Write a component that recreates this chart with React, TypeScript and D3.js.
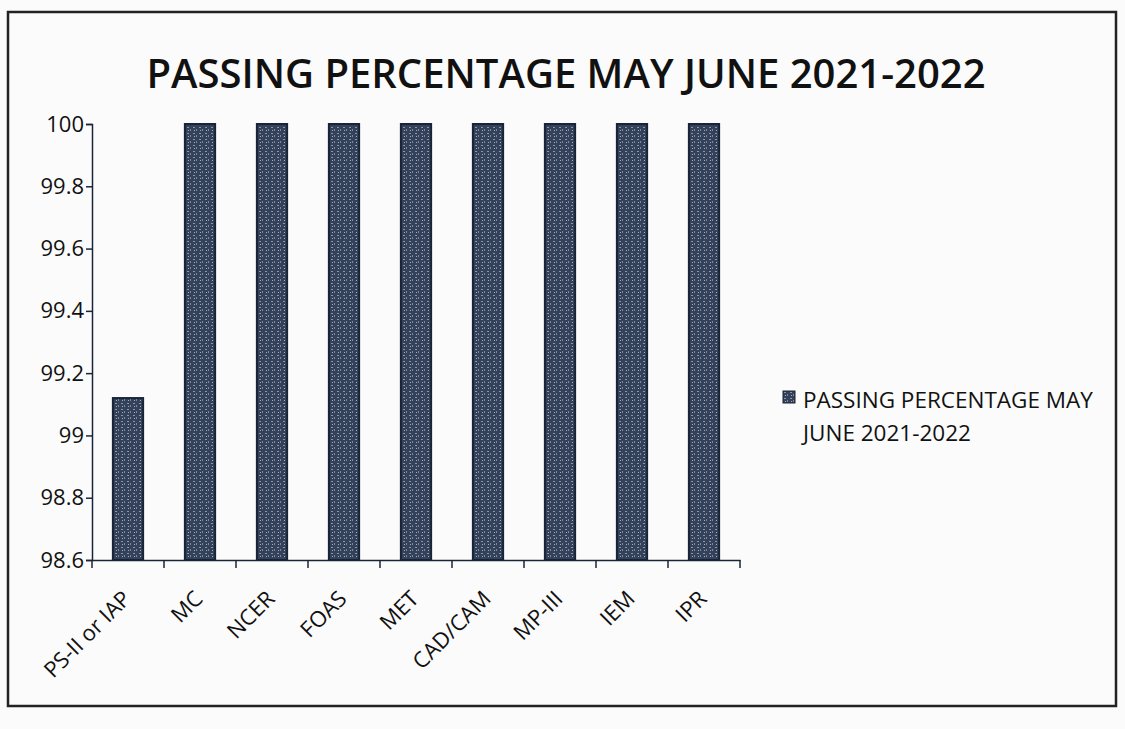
import React, { useEffect, useRef } from "react";
import * as d3 from "d3";

const categories = ["PS-II or IAP", "MC", "NCER", "FOAS", "MET", "CAD/CAM", "MP-III", "IEM", "IPR"];
const passing = [99.12, 100, 100, 100, 100, 100, 100, 100, 100];
const yTicks = [98.6, 98.8, 99, 99.2, 99.4, 99.6, 99.8, 100];
const seriesName = "PASSING PERCENTAGE MAY JUNE 2021-2022";

const App = () => {
  const ref = useRef<SVGSVGElement>(null);

  useEffect(() => {
    const width = 1125;
    const height = 729;
    const font = "'Open Sans', sans-serif";
    const ink = "#1b2437";

    const svg = d3.select(ref.current);
    svg.selectAll("*").remove();

    svg.append("rect").attr("width", width).attr("height", height).attr("fill", "#fbfbfb");

    // page frame
    svg.append("rect")
      .attr("x", 8).attr("y", 12).attr("width", 1108).attr("height", 694)
      .attr("fill", "none").attr("stroke", "#222").attr("stroke-width", 2.5);

    // title
    svg.append("text")
      .attr("x", 566).attr("y", 88)
      .attr("text-anchor", "middle")
      .attr("font-family", font).attr("font-size", 40).attr("font-weight", 600)
      .attr("fill", "#111")
      .text(seriesName);

    const margin = { left: 92, top: 124, right: 740, bottom: 560 };

    const x = d3.scaleBand().domain(categories).range([margin.left, margin.right]).paddingInner(0.58).paddingOuter(0.29);
    const y = d3.scaleLinear().domain([98.6, 100]).range([margin.bottom, margin.top]);

    // texture for bars
    const defs = svg.append("defs");
    const pat = defs.append("pattern")
      .attr("id", "speck").attr("width", 6).attr("height", 6).attr("patternUnits", "userSpaceOnUse");
    pat.append("rect").attr("width", 6).attr("height", 6).attr("fill", "#34415a");
    pat.append("rect").attr("x", 1).attr("y", 1).attr("width", 2).attr("height", 1).attr("fill", "#8c96a4");
    pat.append("rect").attr("x", 4).attr("y", 3).attr("width", 1).attr("height", 2).attr("fill", "#7d8898");
    pat.append("rect").attr("x", 2).attr("y", 4).attr("width", 1).attr("height", 1).attr("fill", "#a3acb8");

    svg.append("g")
      .selectAll("rect")
      .data(passing)
      .join("rect")
      .attr("x", (d, i) => x(categories[i])!)
      .attr("y", (d) => y(d))
      .attr("width", x.bandwidth())
      .attr("height", (d) => y(98.6) - y(d))
      .attr("fill", "url(#speck)")
      .attr("stroke", "#1a2438")
      .attr("stroke-width", 2);

    // y axis
    const yAxis = svg.append("g")
      .attr("transform", `translate(${margin.left},0)`)
      .call(d3.axisLeft(y).tickValues(yTicks).tickSize(6).tickFormat((d) => `${d}`));
    yAxis.select(".domain").attr("stroke", ink).attr("stroke-width", 1.5);
    yAxis.selectAll(".tick line").attr("stroke", ink).attr("stroke-width", 1.5);
    yAxis.selectAll(".tick text")
      .attr("x", -8)
      .attr("font-family", font).attr("font-size", 22).attr("fill", "#111");

    // x axis
    const xAxis = svg.append("g")
      .attr("transform", `translate(0,${margin.bottom})`)
      .call(d3.axisBottom(x).tickSize(0).tickSizeOuter(0));
    xAxis.select(".domain").attr("stroke", ink).attr("stroke-width", 1.5);
    xAxis.selectAll(".tick text")
      .attr("font-family", font).attr("font-size", 22).attr("fill", "#111")
      .attr("text-anchor", "end")
      .attr("dy", 0)
      .attr("transform", "translate(2,38) rotate(-45)");

    // x ticks at band boundaries
    const bounds = categories.map((c) => x(c)! - (x.step() - x.bandwidth()) / 2).concat([margin.right]);
    svg.append("g")
      .selectAll("line")
      .data(bounds)
      .join("line")
      .attr("x1", (d) => d).attr("x2", (d) => d)
      .attr("y1", margin.bottom).attr("y2", margin.bottom + 8)
      .attr("stroke", ink).attr("stroke-width", 1.5);

    // legend
    const lg = svg.append("g").attr("transform", "translate(783,391)");
    lg.append("rect").attr("width", 12).attr("height", 12)
      .attr("fill", "url(#speck)").attr("stroke", "#1a2438");
    lg.append("text")
      .attr("x", 20).attr("y", 17)
      .attr("font-family", font).attr("font-size", 22.5).attr("fill", "#111")
      .text("PASSING PERCENTAGE MAY");
    lg.append("text")
      .attr("x", 20).attr("y", 50)
      .attr("font-family", font).attr("font-size", 22.5).attr("fill", "#111")
      .text("JUNE 2021-2022");
  }, []);

  return <svg ref={ref} width={1125} height={729} style={{ display: "block", position: "absolute", left: 0, top: 0 }} />;
};

export default App;
